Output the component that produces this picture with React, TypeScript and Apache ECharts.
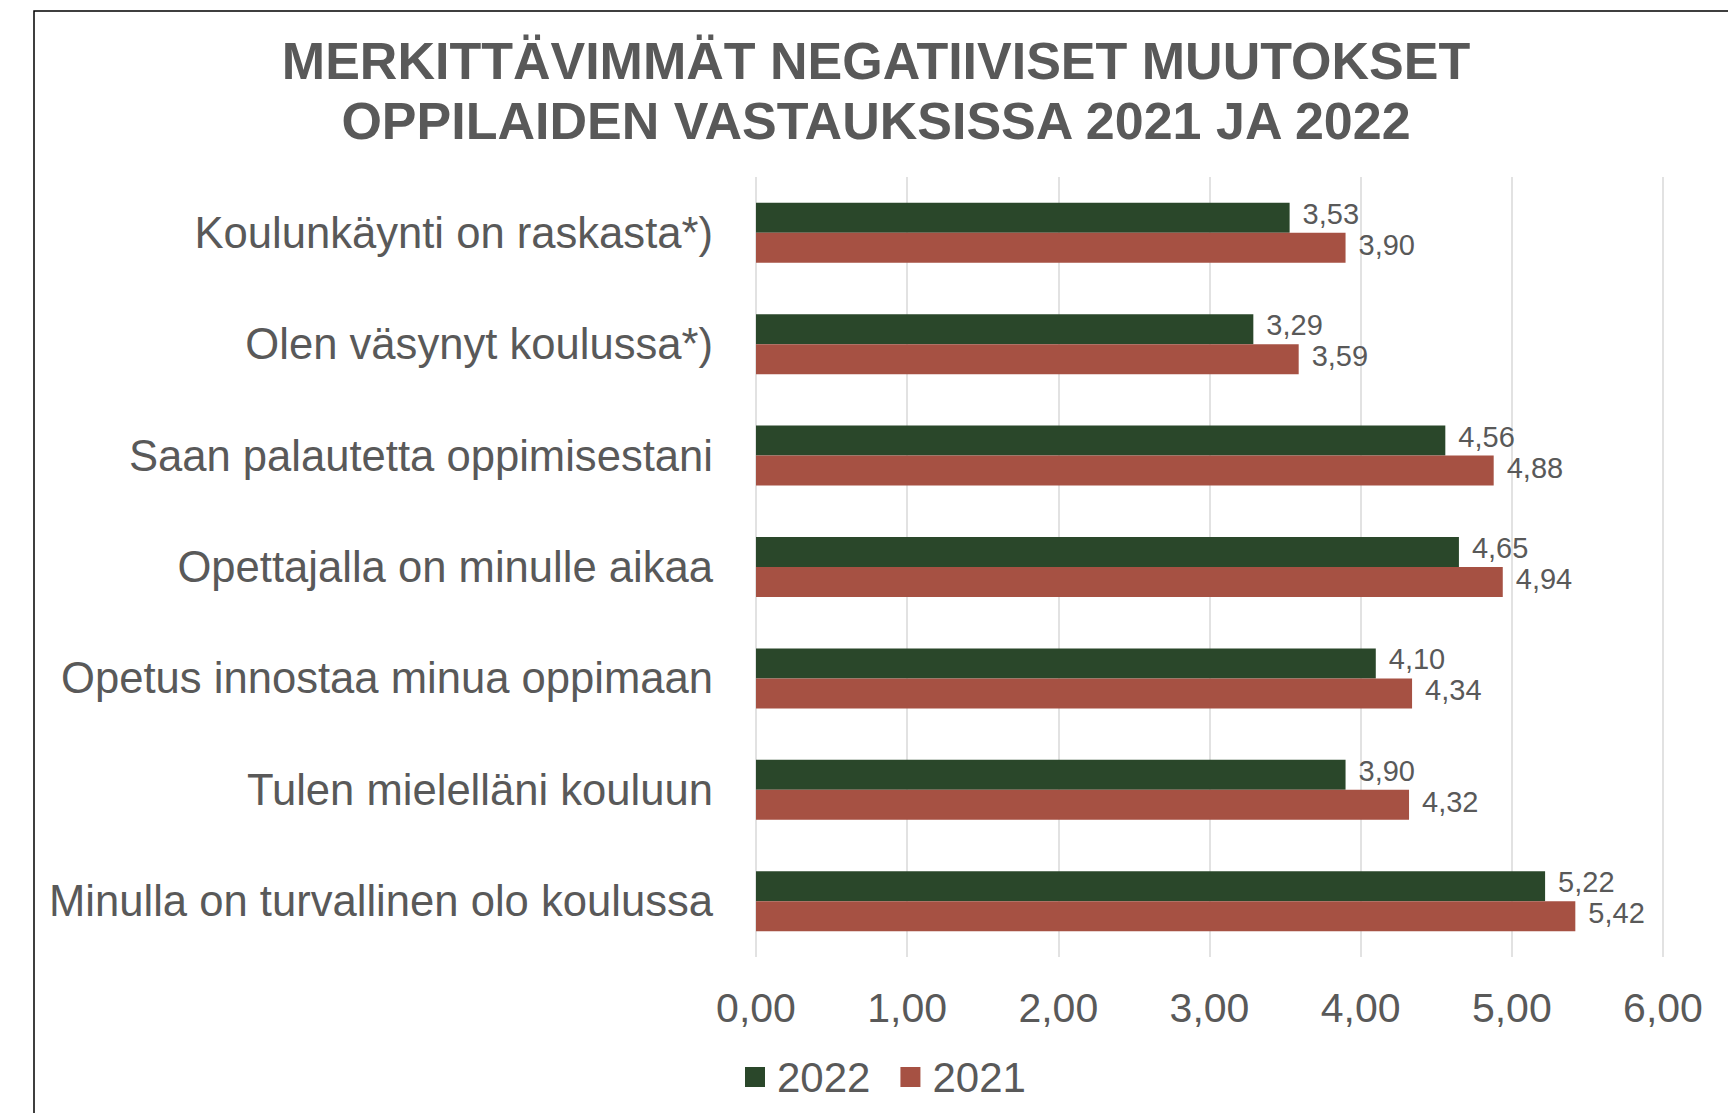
import React, { useEffect, useRef } from "react";
import * as echarts from "echarts";

const categories = [
  "Koulunkäynti on raskasta*)",
  "Olen väsynyt koulussa*)",
  "Saan palautetta oppimisestani",
  "Opettajalla on minulle aikaa",
  "Opetus innostaa minua oppimaan",
  "Tulen mielelläni kouluun",
  "Minulla on turvallinen olo koulussa",
];
const values2022 = [3.53, 3.29, 4.56, 4.65, 4.1, 3.9, 5.22];
const values2021 = [3.9, 3.59, 4.88, 4.94, 4.34, 4.32, 5.42];
const seriesNames = ["2022", "2021"];
const titleLines = [
  "MERKITTÄVIMMÄT NEGATIIVISET MUUTOKSET",
  "OPPILAIDEN VASTAUKSISSA 2021 JA 2022",
];

const FONT = "'Liberation Sans', Arial, sans-serif";
const TEXT = "#595959";
const GREEN = "#2A472A";
const RED = "#A65143";
const fmt = (v: number) => v.toFixed(2).replace(".", ",");

export default function App() {
  const ref = useRef<HTMLDivElement>(null);
  useEffect(() => {
    if (!ref.current) return;
    const chart = echarts.init(ref.current, null, { renderer: "svg" });
    chart.setOption({
      animation: false,
      backgroundColor: "#ffffff",
      textStyle: { fontFamily: FONT },
      graphic: [
        {
          type: "rect",
          shape: { x: 34, y: 11, width: 1800, height: 1300 },
          style: { fill: "none", stroke: "#000", lineWidth: 1.5 },
          silent: true,
        },
        {
          type: "text",
          x: 876,
          y: 61,
          style: {
            text: titleLines[0],
            fill: TEXT,
            font: `bold 52px ${FONT}`,
            textAlign: "center",
            textVerticalAlign: "middle",
          },
        },
        {
          type: "text",
          x: 876,
          y: 121,
          style: {
            text: titleLines[1],
            fill: TEXT,
            font: `bold 52px ${FONT}`,
            textAlign: "center",
            textVerticalAlign: "middle",
          },
        },
      ],
      legend: {
        left: 740,
        top: 1051,
        itemWidth: 20,
        itemHeight: 20,
        itemGap: 30,
        icon: "rect",
        data: seriesNames,
        textStyle: { color: TEXT, fontSize: 42, fontFamily: FONT, padding: [0, 0, 0, 7] },
      },
      grid: { left: 756, right: 65, top: 177, bottom: 156, containLabel: false },
      xAxis: {
        type: "value",
        min: 0,
        max: 6,
        interval: 1,
        axisLine: { show: false },
        axisTick: { show: false },
        splitLine: { show: true, lineStyle: { color: "#D9D9D9", width: 1.5 } },
        axisLabel: {
          formatter: (v: number) => fmt(v),
          color: TEXT,
          fontSize: 41,
          fontFamily: FONT,
          margin: 30,
        },
      },
      yAxis: {
        type: "category",
        inverse: true,
        data: categories,
        axisLine: { show: false },
        axisTick: { show: false },
        axisLabel: {
          color: TEXT,
          fontSize: 43.6,
          fontFamily: FONT,
          margin: 43,
          padding: [0, 0, 7, 0],
        },
      },
      series: [
        {
          name: seriesNames[0],
          type: "bar",
          data: values2022,
          barWidth: 30,
          barGap: "0%",
          itemStyle: { color: GREEN },
          label: {
            show: true,
            position: "right",
            distance: 13,
            offset: [0, -4],
            formatter: (p: any) => fmt(p.value),
            color: TEXT,
            fontSize: 29,
            fontFamily: FONT,
          },
        },
        {
          name: seriesNames[1],
          type: "bar",
          data: values2021,
          barWidth: 30,
          barGap: "0%",
          itemStyle: { color: RED },
          label: {
            show: true,
            position: "right",
            distance: 13,
            offset: [0, -3],
            formatter: (p: any) => fmt(p.value),
            color: TEXT,
            fontSize: 29,
            fontFamily: FONT,
          },
        },
      ],
    });
    return () => chart.dispose();
  }, []);
  return (
    <div
      ref={ref}
      style={{ position: "fixed", left: 0, top: 0, width: 1728, height: 1113, background: "#fff" }}
    />
  );
}
